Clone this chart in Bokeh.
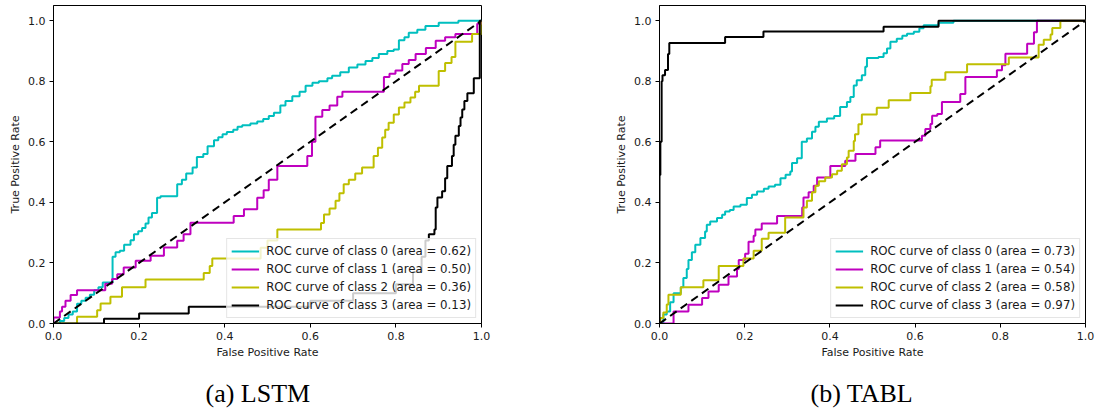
from bokeh.plotting import figure
from bokeh.layouts import row
from bokeh.models import Range1d, FixedTicker, PrintfTickFormatter, Title
from bokeh.embed import file_html
from bokeh.resources import INLINE

# ---------------- data ----------------
class_names = ["0", "1", "2", "3"]
colors = ["#00bfbf", "#bf00bf", "#bfbf00", "#000000"]
lstm_auc = [0.62, 0.50, 0.36, 0.13]
tabl_auc = [0.73, 0.54, 0.58, 0.97]
tick_values = [0.0, 0.2, 0.4, 0.6, 0.8, 1.0]
diag_x = [0.0, 1.0]
diag_y = [0.0, 1.0]
captions = ["(a) LSTM", "(b) TABL"]

# LSTM (step points: fpr where the curve rises, tpr after the rise)
lstm_fpr_0 = [0, 0.015, 0.025, 0.035, 0.045, 0.055, 0.065, 0.075, 0.085, 0.095, 0.105, 0.115, 0.138, 0.145, 0.155, 0.165, 0.18, 0.188, 0.198, 0.207, 0.215, 0.222, 0.23, 0.242, 0.25, 0.289, 0.3, 0.31, 0.325, 0.335, 0.35, 0.36, 0.375, 0.385, 0.395, 0.405, 0.42, 0.43, 0.441, 0.46, 0.476, 0.49, 0.503, 0.515, 0.53, 0.542, 0.558, 0.575, 0.589, 0.605, 0.62, 0.64, 0.651, 0.67, 0.69, 0.71, 0.729, 0.745, 0.76, 0.78, 0.795, 0.807, 0.82, 0.83, 0.85, 0.869, 0.9, 0.946, 1.0]
lstm_tpr_0 = [0, 0.008, 0.018, 0.03, 0.04, 0.065, 0.075, 0.085, 0.095, 0.11, 0.12, 0.135, 0.22, 0.235, 0.24, 0.26, 0.275, 0.295, 0.305, 0.315, 0.33, 0.35, 0.365, 0.415, 0.42, 0.46, 0.475, 0.495, 0.515, 0.55, 0.56, 0.585, 0.605, 0.615, 0.625, 0.632, 0.64, 0.65, 0.655, 0.66, 0.667, 0.675, 0.685, 0.696, 0.72, 0.735, 0.75, 0.765, 0.785, 0.795, 0.80, 0.81, 0.818, 0.83, 0.845, 0.855, 0.867, 0.877, 0.89, 0.9, 0.905, 0.935, 0.945, 0.96, 0.97, 0.982, 0.993, 1.0, 1.0]

lstm_fpr_1 = [0, 0.0, 0.015, 0.02, 0.028, 0.04, 0.055, 0.121, 0.137, 0.149, 0.164, 0.192, 0.227, 0.258, 0.289, 0.304, 0.32, 0.421, 0.445, 0.476, 0.491, 0.503, 0.523, 0.593, 0.604, 0.612, 0.628, 0.645, 0.663, 0.675, 0.772, 0.785, 0.799, 0.815, 0.83, 0.846, 0.87, 0.893, 0.915, 0.939, 0.99, 1.0]
lstm_tpr_1 = [0, 0.02, 0.04, 0.055, 0.075, 0.094, 0.11, 0.131, 0.147, 0.163, 0.185, 0.207, 0.224, 0.251, 0.273, 0.295, 0.333, 0.355, 0.377, 0.415, 0.44, 0.475, 0.52, 0.553, 0.6, 0.683, 0.705, 0.72, 0.749, 0.765, 0.814, 0.825, 0.835, 0.857, 0.87, 0.89, 0.91, 0.934, 0.945, 0.956, 0.99, 1.0]

lstm_fpr_2 = [0, 0.055, 0.102, 0.11, 0.133, 0.16, 0.215, 0.351, 0.365, 0.371, 0.484, 0.5, 0.523, 0.625, 0.632, 0.645, 0.659, 0.668, 0.678, 0.69, 0.705, 0.721, 0.748, 0.758, 0.768, 0.775, 0.783, 0.795, 0.807, 0.82, 0.834, 0.845, 0.854, 0.9, 0.915, 0.93, 0.939, 0.978, 1.0]
lstm_tpr_2 = [0, 0.022, 0.044, 0.066, 0.088, 0.12, 0.145, 0.167, 0.19, 0.215, 0.25, 0.274, 0.31, 0.332, 0.36, 0.38, 0.405, 0.43, 0.46, 0.475, 0.495, 0.515, 0.553, 0.58, 0.614, 0.64, 0.663, 0.69, 0.713, 0.73, 0.746, 0.765, 0.785, 0.834, 0.86, 0.88, 0.93, 0.956, 1.0]

lstm_fpr_3 = [0, 0.118, 0.2, 0.316, 0.6, 0.7, 0.8, 0.84, 0.86, 0.869, 0.877, 0.89, 0.893, 0.897, 0.908, 0.915, 0.92, 0.931, 0.935, 0.939, 0.947, 0.951, 0.955, 0.96, 0.967, 0.982, 0.996, 1.0]
lstm_tpr_3 = [0, 0.016, 0.033, 0.055, 0.075, 0.1, 0.13, 0.17, 0.22, 0.274, 0.295, 0.31, 0.383, 0.416, 0.437, 0.48, 0.52, 0.553, 0.59, 0.62, 0.652, 0.68, 0.707, 0.735, 0.76, 0.81, 1.0, 1.0]

# TABL
tabl_fpr_0 = [0, 0.009, 0.017, 0.025, 0.033, 0.05, 0.056, 0.064, 0.068, 0.076, 0.084, 0.096, 0.107, 0.111, 0.119, 0.135, 0.147, 0.154, 0.165, 0.174, 0.19, 0.205, 0.217, 0.229, 0.245, 0.256, 0.271, 0.284, 0.296, 0.307, 0.311, 0.323, 0.334, 0.346, 0.358, 0.366, 0.374, 0.393, 0.41, 0.424, 0.44, 0.448, 0.456, 0.463, 0.475, 0.483, 0.487, 0.514, 0.526, 0.534, 0.542, 0.557, 0.57, 0.581, 0.597, 0.61, 0.62, 0.655, 0.69, 1.0]
tabl_tpr_0 = [0, 0.03, 0.04, 0.07, 0.1, 0.12, 0.15, 0.18, 0.21, 0.235, 0.26, 0.282, 0.304, 0.326, 0.337, 0.348, 0.359, 0.37, 0.375, 0.386, 0.392, 0.414, 0.425, 0.436, 0.445, 0.452, 0.458, 0.48, 0.491, 0.502, 0.53, 0.546, 0.6, 0.611, 0.633, 0.65, 0.666, 0.677, 0.685, 0.715, 0.731, 0.748, 0.786, 0.803, 0.82, 0.848, 0.877, 0.88, 0.892, 0.908, 0.93, 0.94, 0.95, 0.957, 0.963, 0.975, 0.985, 0.993, 1.0, 1.0]

tabl_fpr_1 = [0, 0.033, 0.068, 0.1, 0.115, 0.139, 0.162, 0.182, 0.186, 0.201, 0.209, 0.221, 0.225, 0.24, 0.276, 0.335, 0.338, 0.35, 0.362, 0.37, 0.401, 0.436, 0.46, 0.507, 0.518, 0.616, 0.624, 0.636, 0.64, 0.652, 0.663, 0.706, 0.718, 0.792, 0.804, 0.812, 0.863, 0.879, 0.886, 1.0]
tabl_tpr_1 = [0, 0.04, 0.062, 0.084, 0.106, 0.128, 0.155, 0.18, 0.21, 0.23, 0.27, 0.29, 0.31, 0.33, 0.355, 0.383, 0.416, 0.433, 0.455, 0.482, 0.52, 0.537, 0.56, 0.582, 0.604, 0.62, 0.642, 0.659, 0.686, 0.692, 0.731, 0.758, 0.814, 0.836, 0.853, 0.891, 0.924, 0.962, 1.0, 1.0]

tabl_fpr_2 = [0, 0.002, 0.009, 0.017, 0.021, 0.05, 0.103, 0.139, 0.197, 0.221, 0.24, 0.256, 0.295, 0.338, 0.346, 0.358, 0.366, 0.374, 0.389, 0.405, 0.417, 0.428, 0.44, 0.444, 0.456, 0.459, 0.467, 0.475, 0.51, 0.538, 0.589, 0.636, 0.639, 0.671, 0.722, 0.82, 0.89, 0.902, 0.918, 0.922, 0.941, 1.0]
tabl_tpr_2 = [0, 0.018, 0.036, 0.063, 0.095, 0.12, 0.143, 0.19, 0.215, 0.24, 0.28, 0.3, 0.35, 0.383, 0.405, 0.433, 0.455, 0.47, 0.482, 0.493, 0.504, 0.526, 0.548, 0.57, 0.603, 0.625, 0.658, 0.69, 0.712, 0.737, 0.761, 0.783, 0.805, 0.83, 0.856, 0.878, 0.92, 0.937, 0.954, 0.976, 1.0, 1.0]

tabl_fpr_3 = [0, 0.0, 0.002, 0.005, 0.007, 0.013, 0.02, 0.023, 0.154, 0.244, 0.526, 0.655, 1.0]
tabl_tpr_3 = [0, 0.49, 0.6, 0.8, 0.82, 0.837, 0.89, 0.926, 0.946, 0.964, 0.98, 1.0, 1.0]

lstm_fpr = [lstm_fpr_0, lstm_fpr_1, lstm_fpr_2, lstm_fpr_3]
lstm_tpr = [lstm_tpr_0, lstm_tpr_1, lstm_tpr_2, lstm_tpr_3]
tabl_fpr = [tabl_fpr_0, tabl_fpr_1, tabl_fpr_2, tabl_fpr_3]
tabl_tpr = [tabl_tpr_0, tabl_tpr_1, tabl_tpr_2, tabl_tpr_3]

FONT = "DejaVu Sans"


def make_plot(fprs, tprs, aucs, caption, border_left, border_right, frame_w, cap_offset):
    p = figure(frame_width=frame_w, frame_height=318,
               min_border_left=border_left, min_border_right=border_right,
               min_border_top=5, min_border_bottom=89,
               x_range=Range1d(0, 1), y_range=Range1d(0, 1.05),
               output_backend="svg", toolbar_location=None,
               background_fill_color="white", border_fill_color="white")
    p.xgrid.visible = False
    p.ygrid.visible = False
    p.outline_line_color = "black"
    p.outline_line_width = 1
    for ax in (p.xaxis[0], p.yaxis[0]):
        ax.ticker = FixedTicker(ticks=tick_values)
        ax.formatter = PrintfTickFormatter(format="%.1f")
        ax.minor_tick_line_color = None
        ax.major_tick_out = 4
        ax.major_tick_in = 0
        ax.major_label_standoff = 4
        ax.major_label_text_font = FONT
        ax.major_label_text_font_size = "11px"
        ax.major_label_text_color = "#1a1a1a"
        ax.axis_label_text_font = FONT
        ax.axis_label_text_font_size = "11px"
        ax.axis_label_text_font_style = "normal"
        ax.axis_label_text_color = "#1a1a1a"
        ax.axis_line_color = "black"
        ax.major_tick_line_color = "black"
    p.xaxis.axis_label = "False Positive Rate"
    p.yaxis.axis_label = "True Positive Rate"
    p.xaxis.axis_label_standoff = 3
    p.yaxis.axis_label_standoff = 3

    for i in range(4):
        p.step(fprs[i], tprs[i], mode="after", line_width=2, line_color=colors[i],
               legend_label=f"ROC curve of class {class_names[i]} (area = {aucs[i]:.2f})")
    p.line(diag_x, diag_y, line_width=2, line_color="black", line_dash="8 5")

    lg = p.legend[0]
    lg.location = "bottom_right"
    lg.margin = 5
    lg.padding = 4
    lg.spacing = 2
    lg.glyph_height = 16
    lg.glyph_width = 28
    lg.label_height = 16
    lg.label_standoff = 7
    lg.label_text_font = FONT
    lg.label_text_font_size = "11.8px"
    lg.label_text_color = "#1a1a1a"
    lg.border_line_color = "#cccccc"
    lg.border_line_width = 1
    lg.background_fill_alpha = 0.8

    p.add_layout(Title(text=caption, align="left", offset=cap_offset, standoff=30,
                       text_font="Liberation Serif", text_font_size="26px",
                       text_font_style="normal", text_color="black"), "below")
    return p


p1 = make_plot(lstm_fpr, lstm_tpr, lstm_auc, captions[0], 53, 79, 428, 152)
p2 = make_plot(tabl_fpr, tabl_tpr, tabl_auc, captions[1], 99, 12, 426, 151)
layout = row(p1, p2)

open("out.html", "w").write(file_html(layout, INLINE))
